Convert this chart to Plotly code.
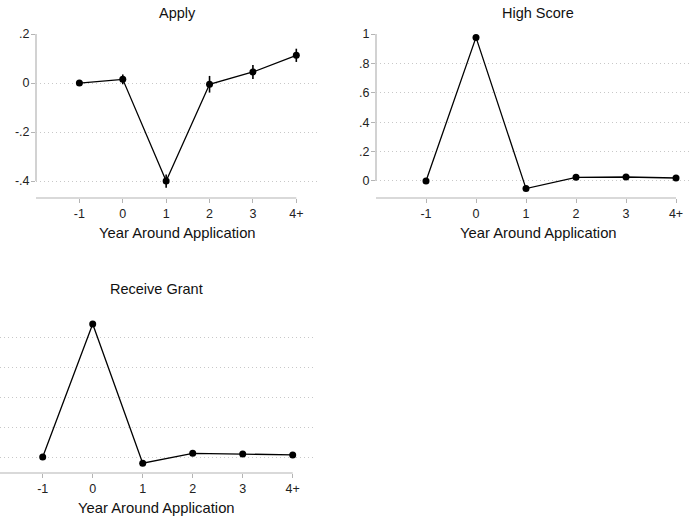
import plotly.graph_objects as go

W, H = 691, 521

years = [-1, 0, 1, 2, 3, 4]
year_labels = ["-1", "0", "1", "2", "3", "4+"]

apply_vals = [0.0, 0.015, -0.400, -0.005, 0.045, 0.113]
apply_err = [0.0, 0.020, 0.027, 0.034, 0.029, 0.027]
high_score_vals = [0.0, 0.977, -0.052, 0.025, 0.027, 0.020]
grant_vals = [0.0, 0.893, -0.041, 0.025, 0.020, 0.014]

titles = ["Apply", "High Score", "Receive Grant"]
xtitle = "Year Around Application"

apply_ticks = [-0.4, -0.2, 0, 0.2]
apply_ticklabels = ["-.4", "-.2", "0", ".2"]
share_ticks = [0, 0.2, 0.4, 0.6, 0.8, 1]
share_ticklabels = ["0", ".2", ".4", ".6", ".8", "1"]

FONT = "Liberation Sans, Arial, Helvetica, sans-serif"
AXC = "#b4b4b4"
GRIDC = "#c8c8c8"

def px(x):
    return x / W

def py(y):
    return 1 - y / H

# panel geometry in pixels: (left, right, top, bottom), x range, y range
panels = [
    dict(l=36, r=318, t=34, b=198, xr=[-2.0, 4.5], yr=[-0.469, 0.2],
         ticks=apply_ticks, tl=apply_ticklabels, yaxline=[-0.4, 0.2], ylab=True),
    dict(l=376, r=691, t=34, b=198, xr=[-2.0, 4.3], yr=[-0.116, 1.0],
         ticks=share_ticks, tl=share_ticklabels, yaxline=[0, 1], ylab=True),
    dict(l=0, r=315, t=308, b=473, xr=[-1.854, 4.446], yr=[-0.107, 1.0],
         ticks=share_ticks, tl=share_ticklabels, yaxline=[0, 1], ylab=False),
]
title_pos = [(177, 13), (538, 13), (156, 289)]
xtitle_pos = [(177, 233), (538, 233), (156, 508)]

fig = go.Figure()
series = [apply_vals, high_score_vals, grant_vals]
errs = [apply_err, None, None]

shapes = []
annotations = []
for i, p in enumerate(panels):
    n = "" if i == 0 else str(i + 1)
    tr = go.Scatter(
        x=years, y=series[i], mode="lines+markers",
        line=dict(color="black", width=1.3),
        marker=dict(color="black", size=7),
        xaxis="x" + n, yaxis="y" + n, showlegend=False, cliponaxis=False,
    )
    if errs[i] is not None:
        tr.error_y = dict(type="data", array=errs[i], visible=True,
                          color="black", thickness=1.6, width=0)
    fig.add_trace(tr)

    xd = [px(p["l"]), px(p["r"])]
    yd = [py(p["b"]), py(p["t"])]
    fig.layout["xaxis" + n] = dict(
        domain=xd, range=p["xr"], anchor="y" + n,
        tickmode="array", tickvals=years, ticktext=year_labels,
        ticks="outside", ticklen=4, tickcolor=AXC, tickwidth=1,
        showgrid=False, zeroline=False, showline=False,
        tickfont=dict(family=FONT, size=12.5, color="#222"),
        fixedrange=True, automargin=False,
    )
    fig.layout["yaxis" + n] = dict(
        domain=yd, range=p["yr"], anchor="x" + n,
        tickmode="array", tickvals=p["ticks"], ticktext=p["tl"],
        ticks="outside" if p["ylab"] else "", ticklen=4, tickcolor=AXC,
        tickwidth=1, showticklabels=p["ylab"], ticklabelstandoff=-1,
        showgrid=True, gridcolor=GRIDC, griddash="1px,3px", gridwidth=1,
        zeroline=False, showline=False,
        tickfont=dict(family=FONT, size=12.5, color="#222"),
        fixedrange=True, automargin=False,
    )

    # helpers converting data to paper
    def dx(v, p=p):
        a, b = p["xr"]
        return px(p["l"] + (v - a) / (b - a) * (p["r"] - p["l"]))

    def dy(v, p=p):
        a, b = p["yr"]
        return py(p["b"] - (v - a) / (b - a) * (p["b"] - p["t"]))

    # x axis line: from plot left edge to last tick
    shapes.append(dict(type="line", xref="paper", yref="paper",
                       x0=px(p["l"]), x1=dx(years[-1]),
                       y0=py(p["b"]), y1=py(p["b"]),
                       line=dict(color=AXC, width=1.2), layer="below"))
    # y axis line spanning tick range
    if p["l"] > 0:
        shapes.append(dict(type="line", xref="paper", yref="paper",
                           x0=px(p["l"]), x1=px(p["l"]),
                           y0=dy(p["yaxline"][0]), y1=dy(p["yaxline"][1]),
                           line=dict(color=AXC, width=1.2), layer="below"))

    tx, ty = title_pos[i]
    annotations.append(dict(text=titles[i], x=px(tx), y=py(ty), xref="paper",
                            yref="paper", showarrow=False, xanchor="center",
                            yanchor="middle",
                            font=dict(family=FONT, size=14.5, color="#111")))
    ax_, ay_ = xtitle_pos[i]
    annotations.append(dict(text=xtitle, x=px(ax_), y=py(ay_), xref="paper",
                            yref="paper", showarrow=False, xanchor="center",
                            yanchor="middle",
                            font=dict(family=FONT, size=14.8, color="#111")))

fig.update_layout(
    width=W, height=H,
    margin=dict(l=0, r=0, t=0, b=0, pad=0, autoexpand=False),
    paper_bgcolor="white", plot_bgcolor="white",
    shapes=shapes, annotations=annotations,
    showlegend=False,
)

fig.write_html("out.html", config={"displayModeBar": False})

# remove default page margin so the figure sits at the window's top-left
with open("out.html", "r", encoding="utf-8") as f:
    html = f.read()
html = html.replace("<head>", "<head><style>html,body{margin:0;padding:0;overflow:hidden;}</style>", 1)
with open("out.html", "w", encoding="utf-8") as f:
    f.write(html)
